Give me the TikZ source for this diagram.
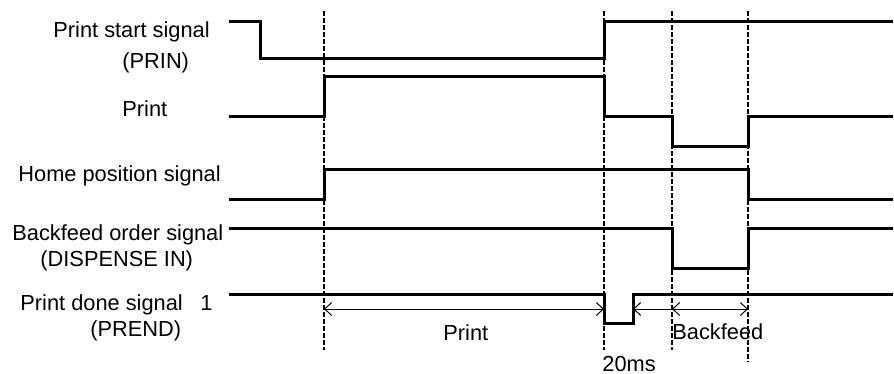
\documentclass[tikz,border=0pt]{standalone}
\usepackage{fontspec}
\setmainfont{Liberation Sans}
\usetikzlibrary{arrows.meta}
\begin{document}
\begin{tikzpicture}[x=0.5pt,y=-0.5pt,
  sig/.style={line width=1.5pt, line join=miter},
  guide/.style={line width=0.6pt, dash pattern=on 2.5pt off 1pt},
  dim/.style={line width=0.5pt, {Straight Barb[length=3.5pt,width=6.5pt]}-{Straight Barb[length=3.5pt,width=6.5pt]}},
  dimr/.style={line width=0.5pt, {Straight Barb[length=3.5pt,width=6.5pt]}-},
  lbl/.style={anchor=base west, inner sep=0pt, font=\fontsize{10.9}{13}\selectfont}]
\useasboundingbox (0,0) rectangle (894,374);

% labels
\node[lbl] (l1a) at (53,38) {Print start signal};
\node[lbl] (l1b) at (122,69) {(PRIN)};
\node[lbl] (l2) at (122,117) {Print};
\node[lbl] (l3) at (18,182) {Home position signal};
\node[lbl] (l4a) at (12,240) {Backfeed order signal};
\node[lbl] (l4b) at (40,266) {(DISPENSE IN)};
\node[lbl] (l5a) at (20,310) {Print done signal};
\node[lbl] (l5n) at (200,310) {1};
\node[lbl] (l5b) at (90,336) {(PREND)};

% guide lines
\draw[guide] (324,11) -- (324,350);
\draw[guide] (604,11) -- (604,350);
\draw[guide] (672,11) -- (672,350);
\draw[guide] (748,11) -- (748,362);

% signals
\draw[sig] (229,22) -- (260,22) -- (260,59) -- (604,59) -- (604,22) -- (893,22);
\draw[sig] (229,117) -- (324,117) -- (324,77) -- (604,77) -- (604,117) -- (672,117) -- (672,147) -- (748,147) -- (748,117) -- (893,117);
\draw[sig] (229,199) -- (324,199) -- (324,169) -- (748,169) -- (748,199) -- (893,199);
\draw[sig] (229,228) -- (672,228) -- (672,268) -- (748,268) -- (748,228) -- (893,228);
\draw[sig] (229,294) -- (604,294) -- (604,323) -- (633,323) -- (633,294) -- (893,294);

% dimension arrows
\coordinate (t1) at (324,309);
\coordinate (t2) at (604,309);
\coordinate (t3) at (633,309);
\coordinate (t4) at (672,309);
\coordinate (t5) at (748,309);
\draw[dim] (t1) -- (t2);
\draw[dimr] (t3) -- (t4);
\draw[dim] (t4) -- (t5);

\node[lbl] (lp) at (443,340) {Print};
\node[lbl] (lb) at (672,339) {Backfeed};
\node[lbl] (lms) at (602,371) {20ms};
\end{tikzpicture}
\end{document}
